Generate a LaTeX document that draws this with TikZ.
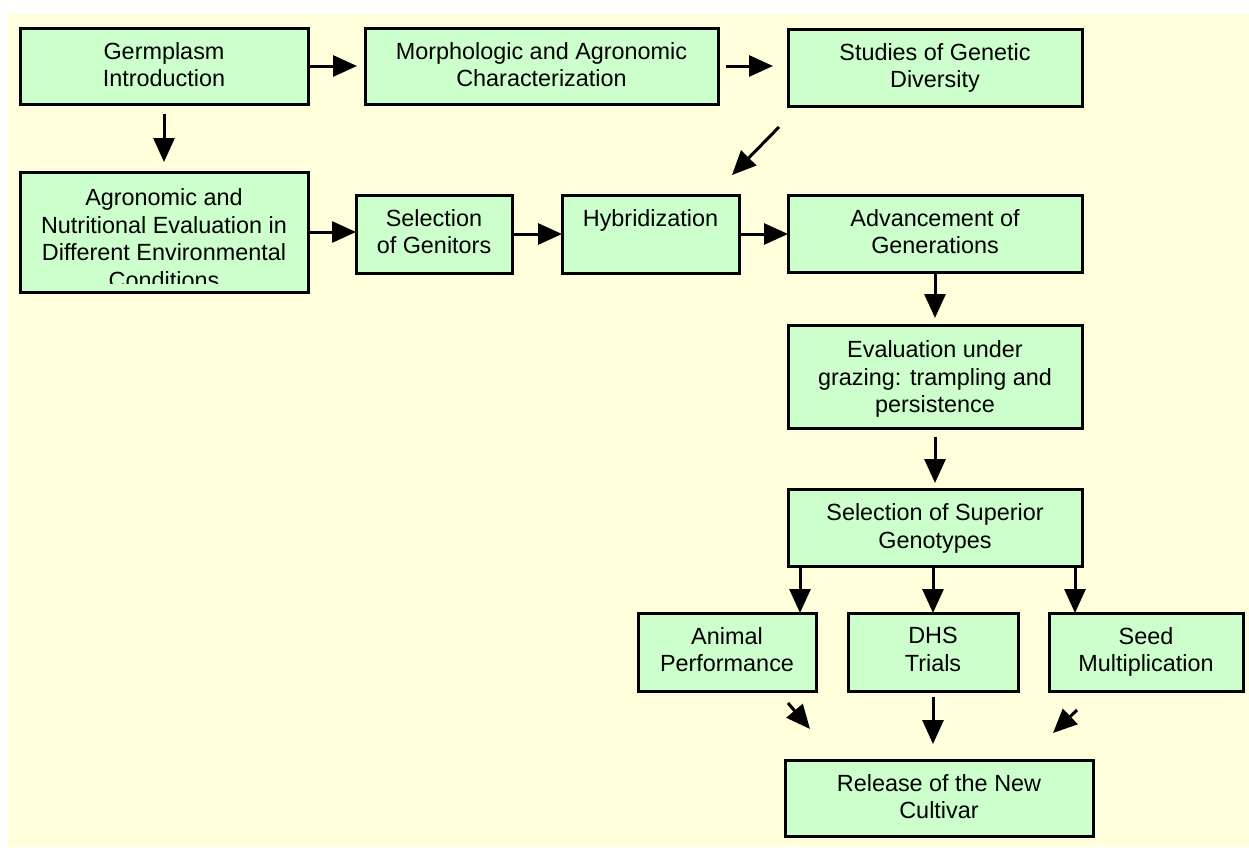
\documentclass[tikz,border=0pt]{standalone}
\usepackage{fontspec}
\usetikzlibrary{arrows.meta}
\newfontfamily\bxfont{Liberation Sans}
\newcommand\bxf{\bxfont\fontsize{11.7pt}{13.75pt}\selectfont}
\definecolor{bgyellow}{HTML}{FFFFDC}
\definecolor{boxgreen}{HTML}{CCFFCC}
\tikzset{
  box/.style={draw=black, line width=1.5pt, fill=boxgreen, inner sep=0pt, outer sep=0pt},
  btext/.style={inner sep=0pt, align=center, font=\bxf, anchor=north},
  arr/.style={line width=1.5pt, -{Triangle[length=12pt,width=10.5pt]}}
}
\newcommand\bx[7]{%
  \node[box, minimum width={(#4-#2)*0.5pt}, minimum height={(#5-#3)*0.5pt}] (#1) at ({(#2+#4)/2},{(#3+#5)/2}) {};
  \node[btext] (#1-t) at ([yshift={-(#6)*0.5pt}]#1.north) {#7};}
\begin{document}
\begin{tikzpicture}[x=0.5pt,y=-0.5pt]
\useasboundingbox (0,0) rectangle (1249,847);
\fill[bgyellow] (8,14) rectangle (1249,847);

\bx{germ}{20}{28}{308}{104}{14}{Germplasm\\Introduction}
\bx{morph}{365}{28}{718}{104}{14}{Morphologic and Agronomic\\Characterization}
\bx{studies}{788}{29}{1082}{106}{14}{Studies of Genetic\\Diversity}

\node[box, minimum width={288*0.5pt}, minimum height={120*0.5pt}] (agro) at (164,232) {};
\begin{scope}
  \clip (20,172) rectangle (308,283);
  \node[btext] (agro-t) at ([yshift={-16.5*0.5pt}]agro.north) {Agronomic and\\Nutritional Evaluation in\\Different Environmental\\Conditions};
\end{scope}

\bx{selgen}{356}{195}{512}{273}{14}{Selection\\of Genitors}
\bx{hybrid}{562}{195}{739}{273}{14}{Hybridization}
\bx{adv}{788}{195}{1082}{272}{14}{Advancement of\\Generations}
\bx{eval}{788}{325}{1082}{428}{15.5}{Evaluation under\\grazing: trampling and\\persistence}
\bx{selsup}{788}{489}{1082}{566}{14.5}{Selection of Superior\\Genotypes}
\bx{animal}{638}{613}{816}{691}{14}{Animal\\Performance}
\bx{dhs}{848}{613}{1018}{691}{14}{DHS\\Trials}
\bx{seed}{1049}{613}{1243}{691}{14}{Seed\\Multiplication}
\bx{release}{785}{760}{1093}{836}{14}{Release of the New\\Cultivar}

\draw[arr, shorten <=1pt, shorten >=4pt] (germ.east) -- (germ.east -| morph.west);
\draw[arr, shorten <=4pt, shorten >=7.5pt] (morph.east) -- (morph.east -| studies.west);
\draw[arr, shorten <=5pt, shorten >=5pt] (germ.south) -- (agro.north);
\draw[arr, shorten <=1pt] (agro.east) -- (agro.east -| selgen.west);
\draw[arr] (selgen.east) -- (selgen.east -| hybrid.west);
\draw[arr] (hybrid.east) -- (hybrid.east -| adv.west);
\coordinate (d1s) at (779,127);
\coordinate (d1e) at (732,175);
\draw[arr] (d1s) -- (d1e);
\draw[arr, shorten >=3.5pt] (adv.south) -- (eval.north);
\draw[arr, shorten <=4.5pt, shorten >=3pt] (eval.south) -- (selsup.north);
\draw[arr] ([xshift=6pt]selsup.south west) -- ([xshift=6pt]selsup.south west |- animal.north);
\draw[arr] (selsup.south -| dhs.north) -- (dhs.north);
\draw[arr] ([xshift=-3.5pt]selsup.south east) -- ([xshift=-3.5pt]selsup.south east |- seed.north);
\draw[arr, shorten <=3pt, shorten >=8pt] (dhs.south) -- (dhs.south |- release.north);
\coordinate (d2s) at (788,703);
\coordinate (d2e) at (810,729);
\draw[arr] (d2s) -- (d2e);
\coordinate (d3s) at (1077,710);
\coordinate (d3e) at (1053,733);
\draw[arr] (d3s) -- (d3e);
\end{tikzpicture}
\end{document}
